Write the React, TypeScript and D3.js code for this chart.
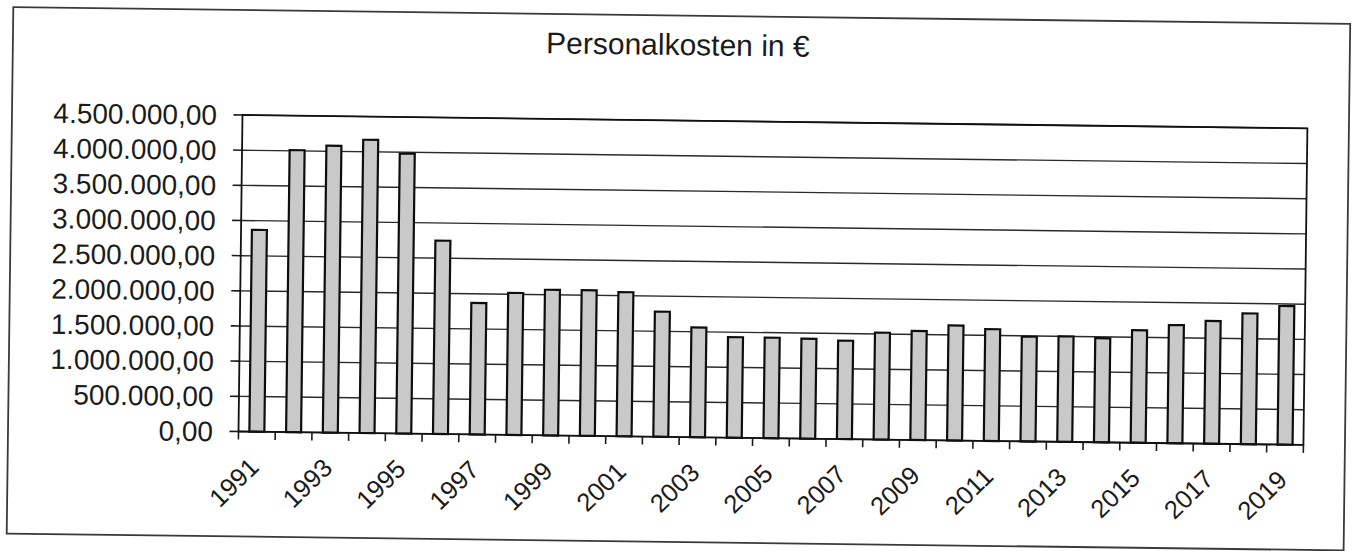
import React from "react";
import * as d3 from "d3";

// Annual personnel costs in euros
const years: string[] = [
  "1991", "1992", "1993", "1994", "1995", "1996", "1997", "1998", "1999", "2000",
  "2001", "2002", "2003", "2004", "2005", "2006", "2007", "2008", "2009", "2010",
  "2011", "2012", "2013", "2014", "2015", "2016", "2017", "2018", "2019",
];
const costs: number[] = [
  2870000, 4010000, 4080000, 4170000, 3980000, 2750000, 1870000, 2020000, 2070000, 2070000,
  2050000, 1780000, 1560000, 1430000, 1430000, 1420000, 1400000, 1520000, 1550000, 1635000,
  1590000, 1490000, 1500000, 1480000, 1600000, 1680000, 1745000, 1860000, 1970000,
];
const yTicks: number[] = [0, 500000, 1000000, 1500000, 2000000, 2500000, 3000000, 3500000, 4000000, 4500000];
const labelledYears: string[] = years.filter((_, i) => i % 2 === 0);
const title = "Personalkosten in €";

const W = 1355;
const H = 551;
const plot = { left: 240.5, right: 1305.5, top: 120.5, bottom: 437 };
const FONT = "'Liberation Sans', Arial, Helvetica, sans-serif";
const INK = "#1b1b1b";

const de = d3.formatLocale({
  decimal: ",",
  thousands: ".",
  grouping: [3],
  currency: ["", " €"],
});
const fmt = de.format(",.2f");

export default function App() {
  const x = d3.scaleBand<string>().domain(years).range([plot.left, plot.right]).paddingInner(0).paddingOuter(0);
  const y = d3.scaleLinear().domain([0, 4500000]).range([plot.bottom, plot.top]);
  const bw = x.bandwidth();
  const barW = 15;

  return (
    <svg
      width={W}
      height={H}
      viewBox={`0 0 ${W} ${H}`}
      style={{ position: "absolute", left: 0, top: 0, background: "#fff" }}
    >
      <rect x={0} y={0} width={W} height={H} fill="#fff" />
      <g transform={`rotate(0.72 677.5 275.5)`}>
        {/* chart frame */}
        <rect x={10} y={15.5} width={1337} height={526.5} fill="#fff" stroke="#3a3a3a" strokeWidth={1.8} />

        <text x={675} y={55} textAnchor="middle" fontFamily={FONT} fontSize={30} fill={INK}>
          {title}
        </text>

        {/* gridlines */}
        {yTicks.map((t) => (
          <line key={`g${t}`} x1={plot.left} x2={plot.right} y1={y(t)} y2={y(t)} stroke="#2a2a2a" strokeWidth={1.4} />
        ))}

        {/* y ticks and labels */}
        {yTicks.map((t) => (
          <g key={`y${t}`}>
            <line x1={plot.left - 9} x2={plot.left} y1={y(t)} y2={y(t)} stroke={INK} strokeWidth={1.6} />
            <text
              x={215}
              y={y(t)}
              dy="0.36em"
              textAnchor="end"
              fontFamily={FONT}
              fontSize={28}
              fill={INK}
            >
              {fmt(t)}
            </text>
          </g>
        ))}

        {/* bars */}
        {years.map((yr, i) => {
          const cx = (x(yr) as number) + bw / 2;
          return (
            <rect
              key={yr}
              x={cx - barW / 2}
              y={y(costs[i])}
              width={barW}
              height={y(0) - y(costs[i])}
              fill="#c9c9c9"
              stroke="#0d0d0d"
              strokeWidth={2.2}
            />
          );
        })}

        {/* plot border */}
        <rect
          x={plot.left}
          y={plot.top}
          width={plot.right - plot.left}
          height={plot.bottom - plot.top}
          fill="none"
          stroke="#111"
          strokeWidth={1.8}
        />

        {/* x ticks at category boundaries */}
        {years.concat(["end"]).map((yr, i) => {
          const xx = plot.left + i * bw;
          return <line key={`t${i}`} x1={xx} x2={xx} y1={plot.bottom} y2={plot.bottom + 8} stroke={INK} strokeWidth={1.6} />;
        })}

        {/* x labels */}
        {labelledYears.map((yr) => {
          const ax = (x(yr) as number) + bw / 2 + 4;
          const ay = plot.bottom + 37;
          return (
            <text
              key={`l${yr}`}
              x={ax}
              y={ay}
              textAnchor="end"
              fontFamily={FONT}
              fontSize={25.5}
              fill={INK}
              transform={`rotate(-45 ${ax} ${ay})`}
            >
              {yr}
            </text>
          );
        })}
      </g>
    </svg>
  );
}
